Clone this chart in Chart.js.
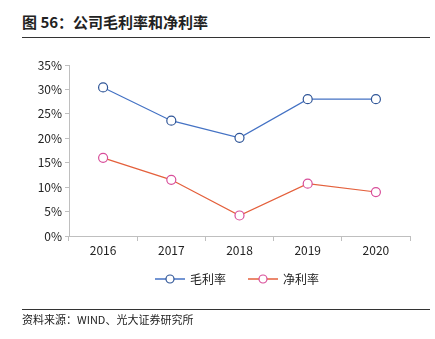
<!DOCTYPE html>
<html>
<head>
<meta charset="utf-8">
<script src="https://cdn.jsdelivr.net/npm/chart.js@4"></script>
<style>
  html, body { margin: 0; padding: 0; background: #fff; }
  #wrap { position: relative; width: 435px; height: 339px; font-family: "Noto Sans CJK SC", "Noto Sans", sans-serif; }
  #title { position: absolute; left: 22px; top: 11px; font-size: 15px; font-weight: bold; color: #222; }
  #titleLine { position: absolute; left: 22px; top: 37px; width: 408px; height: 0; border-top: 1.5px solid #333; }
  #footLine { position: absolute; left: 22px; top: 309px; width: 408px; height: 0; border-top: 1.5px solid #333; }
  #source { position: absolute; left: 22px; top: 311px; font-size: 11px; color: #222; }
  canvas { position: absolute; left: 0; top: 0; }
</style>
</head>
<body>
<div id="wrap">
  <div id="title">图 56：公司毛利率和净利率</div>
  <div id="titleLine"></div>
  <canvas id="chart" width="435" height="339"></canvas>
  <div id="footLine"></div>
  <div id="source">资料来源：WIND、光大证券研究所</div>
</div>
<script>
const years = ['2016', '2017', '2018', '2019', '2020'];
const grossMargin = [30.4, 23.6, 20.1, 28.0, 28.0];
const netMargin = [16.0, 11.5, 4.2, 10.7, 9.0];
const seriesNames = ['毛利率', '净利率'];
const yTicks = [0, 5, 10, 15, 20, 25, 30, 35];

const FONT = '"Noto Sans CJK SC", "Noto Sans", sans-serif';

// legend drawn by hand: short line with a hollow circle in the middle
const lineLegend = {
  id: 'lineLegend',
  afterDraw(chart) {
    const ctx = chart.ctx;
    const y = 279;
    let x = 155;
    ctx.save();
    ctx.font = '12px ' + FONT;
    ctx.textBaseline = 'middle';
    chart.data.datasets.forEach(ds => {
      ctx.strokeStyle = ds.borderColor;
      ctx.globalAlpha = 0.75;
      ctx.lineWidth = 2;
      ctx.beginPath();
      ctx.moveTo(x, y);
      ctx.lineTo(x + 30, y);
      ctx.stroke();
      ctx.globalAlpha = 1;
      ctx.fillStyle = '#fff';
      ctx.strokeStyle = ds.pointBorderColor;
      ctx.lineWidth = 1.2;
      ctx.beginPath();
      ctx.arc(x + 15, y, 4, 0, Math.PI * 2);
      ctx.fill();
      ctx.stroke();
      ctx.fillStyle = '#222';
      ctx.fillText(ds.label, x + 35, y);
      x += 35 + ctx.measureText(ds.label).width + 22;
    });
    ctx.restore();
  }
};

new Chart(document.getElementById('chart'), {
  type: 'line',
  data: {
    labels: years,
    datasets: [
      {
        label: seriesNames[0],
        data: grossMargin,
        borderColor: '#4472C4',
        borderWidth: 1.2,
        pointBackgroundColor: '#fff',
        pointBorderColor: '#2F5597',
        pointBorderWidth: 1.2,
        pointRadius: 4.5,
        tension: 0
      },
      {
        label: seriesNames[1],
        data: netMargin,
        borderColor: '#E4603C',
        borderWidth: 1.2,
        pointBackgroundColor: '#fff',
        pointBorderColor: '#D84E9A',
        pointBorderWidth: 1.2,
        pointRadius: 4.5,
        tension: 0
      }
    ]
  },
  options: {
    responsive: false,
    animation: false,
    layout: { padding: { left: 0, right: 25, top: 65, bottom: 73 } },
    plugins: {
      legend: { display: false },
      tooltip: { enabled: false }
    },
    scales: {
      x: {
        offset: true,
        grid: { offset: true, drawOnChartArea: false, color: '#bfbfbf', tickLength: 5 },
        border: { color: '#bfbfbf' },
        ticks: { color: '#222', font: { family: FONT, size: 12 }, padding: 2 },
        afterFit(scale) { scale.height = 30; }
      },
      y: {
        min: 0,
        max: 35,
        afterBuildTicks(scale) { scale.ticks = yTicks.map(v => ({ value: v })); },
        grid: { drawOnChartArea: false, color: '#bfbfbf', tickLength: 4 },
        border: { color: '#bfbfbf' },
        ticks: { color: '#222', font: { family: FONT, size: 12 }, padding: 3, callback: v => v + '%' },
        afterFit(scale) { scale.width = 69; }
      }
    }
  },
  plugins: [lineLegend]
});
</script>
</body>
</html>
